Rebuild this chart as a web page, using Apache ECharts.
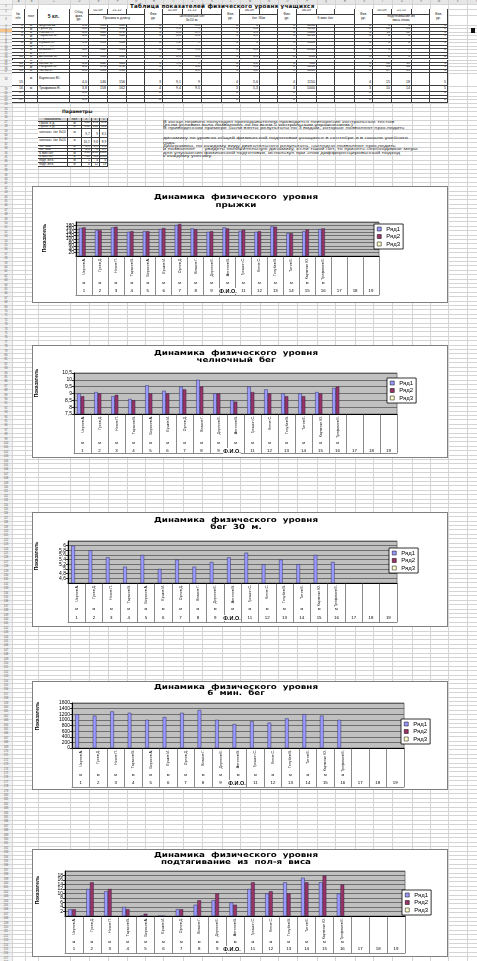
<!DOCTYPE html>
<html lang="ru">
<head>
<meta charset="utf-8">
<title>Динамика физического уровня</title>
<script src="https://cdn.jsdelivr.net/npm/echarts@6/dist/echarts.min.js"></script>
<style>
  html, body { margin:0; padding:0; background:#fff; }
  body { width:477px; height:961px; position:relative; overflow:hidden; font-family:"Liberation Sans", Arial, sans-serif; }
  #sheet { position:absolute; left:0; top:0; width:477px; height:961px; }
  .ln-h { position:absolute; left:0; width:477px; height:0; border-top:1px solid #d4d4d4; }
  .ln-v { position:absolute; top:0; height:961px; width:0; border-left:1px solid #d4d4d4; }
  .hd { position:absolute; font-size:2.6px; color:#555; display:flex; align-items:center; justify-content:center; }
  .cell { position:absolute; box-sizing:border-box; border-right:1px solid #3c3c3c; border-bottom:1px solid #3c3c3c;
          background:#fff; font-size:3.6px; line-height:1.05; color:#111; display:flex; align-items:flex-end;
          justify-content:flex-end; padding:0 1px 0 0; white-space:nowrap; overflow:hidden; }
  .cell.h { align-items:center; justify-content:center; text-align:center; white-space:normal; padding:0; }
  .cell.l { justify-content:flex-start; padding-left:1px; }
  .txt { position:absolute; white-space:nowrap; color:#111; line-height:1; }
  .chart { position:absolute; left:32px; width:416px; }
  .frame { position:absolute; left:32px; width:416px; box-sizing:border-box; border:1px solid #808080; pointer-events:none; }
</style>
</head>
<body>
<div id="sheet"></div>
<div id="c0" class="chart"></div>
<div id="c1" class="chart"></div>
<div id="c2" class="chart"></div>
<div id="c3" class="chart"></div>
<div id="c4" class="chart"></div>
<script>
// ---- class list and results ----
const numbers = ['1','2','3','4','5','6','7','8','9','10','11','12','13','14','15','16','17','18','19'];
const pupils = ['Чернов А.','Гусев Д.','Носов П.','Тарасов В.','Борисов А.','Ершов И.','Орлов Д.','Власов Г.',
                'Дорохов Е.','Антонов В.','Гришин С.','Котов С.','Голубев В.','Титов Е.','Карпенко Ю.','Трофимов Е.'];
const genders = ['м','м','м','м','м','м','м','м','м','м','м','м','м','м','м','м'];

const jumpSep    = [164,152,168,142,146,158,182,162,142,168,148,142,174,134,146,158];
const jumpDec    = [168,152,172,146,146,164,188,156,146,162,154,146,172,134,156,162];
const shuttleSep = [9.0,9.1,8.8,8.6,9.6,9.2,9.5,10.0,9.0,8.5,9.5,9.3,9.0,9.0,9.1,9.4];
const shuttleDec = [8.8,9.0,8.9,8.5,9.0,9.0,9.3,9.5,9.0,8.4,9.1,9.0,8.8,8.8,9.0,9.5];
const run30      = [6.0,5.8,5.5,5.1,5.6,5.0,5.4,5.1,5.3,5.5,5.7,5.2,5.4,5.2,5.6,5.3];
const run6min    = [1200,1150,1300,1250,1000,1100,1250,1350,1000,850,950,900,1050,1200,1150,1000];
const pullSep    = [3,12,11,4,0,0,3,5,7,6,12,10,15,17,15,10];
const pullDec    = [3,15,12,3,1,0,3,7,10,5,15,11,10,15,18,14];
const noData     = [];

// physical level marks per test
const levelJump    = [4,4,5,3,3,4,5,4,3,5,3,3,5,3,3,4];
const levelShuttle = [4,4,5,5,4,4,4,3,4,5,4,4,5,5,4,3];
const levelRun30   = [3,3,4,5,4,5,4,5,4,4,3,5,4,5,4,4];
const levelRun6    = [4,4,5,4,3,4,4,5,3,3,3,3,3,4,4,3];
const levelPull    = [3,5,5,3,1,1,3,4,5,4,5,5,5,5,5,5];

// norms table
const paramNames = ['Прыж. в д.','Прыж. в д.','челночн. бег 3х10','челночн. бег 3х10','бег 30м','бег 30м','6 мин бег','6 мин бег','подт. из в.','подт. из в.'];
const paramSex   = ['м','ж','м','ж','м','ж','м','ж','м','ж'];
const norm3 = [140,130,9.7,10.1,6.3,6.4,850,700,1,4];
const norm4 = [170,160,9,9.6,5.8,6.0,1050,900,4,12];
const norm5 = [195,185,8.5,8.9,5.6,5.7,1300,1100,6,19];

const seriesNames = ['Ряд1','Ряд2','Ряд3'];
const seriesColors = ['#9999FF','#993366','#FFFFCC'];

// ---- worksheet ----
const sheet = document.getElementById('sheet');
function el(cls, css, html) {
  const d = document.createElement('div');
  if (cls) d.className = cls;
  Object.assign(d.style, css);
  if (html !== undefined) d.innerHTML = html;
  sheet.appendChild(d);
  return d;
}
const px = v => v + 'px';
const comma = v => String(v).replace('.', ',');

el('', {position:'absolute', left:0, top:0, width:'477px', height:'3.5px', background:'#e6e6e6'});
el('', {position:'absolute', left:0, top:0, width:'12px', height:'961px', background:'#f2f2f2'});
el('', {position:'absolute', left:0, top:'29px', width:'12px', height:'3.4px', background:'#f5c58a'});

const colEdges = [12,25,38,70,89,108,127,145,163,183,202,222,240,260,278,297,317,335,355,373,392,412,430,448,467,486];
const letters = 'ABCDEFGHIJKLMNOPQRSTUVWXYZ';
colEdges.forEach((x, i) => {
  el('ln-v', {left:px(x)});
  if (i < colEdges.length - 1) el('hd', {left:px(x), top:0, width:px(colEdges[i+1]-x), height:'3.5px'}, letters[i]);
});

const rowEdges = [0, 3.5, 9, 14.5, 25];
for (let i = 0; i < 14; i++) rowEdges.push(+(25 + (i + 1) * 3.45).toFixed(2));
[86, 92, 95.5, 99, 102.5].forEach(v => rowEdges.push(v));
while (rowEdges[rowEdges.length - 1] < 961) rowEdges.push(+(rowEdges[rowEdges.length - 1] + 4.4).toFixed(2));
rowEdges.forEach((y, i) => {
  if (i > 0) el('ln-h', {top:px(y)});
  if (i > 0 && i < rowEdges.length - 1) el('hd', {left:0, top:px(y), width:'12px', height:px(rowEdges[i+1]-y)}, String(i));
});

// results table
const C = {A:12,B:25,C:38,D:70,E:89,F:108,G:127,H:145,I:163,J:183,K:202,L:222,M:240,N:260,O:278,P:297,Q:317,R:335,S:355,T:373,U:392,V:412,W:430,X:448};
const nextCol = {A:'B',B:'C',C:'D',D:'E',E:'F',F:'G',G:'H',H:'I',I:'J',J:'K',K:'L',L:'M',M:'N',N:'O',O:'P',P:'Q',Q:'R',R:'S',S:'T',T:'U',U:'V',V:'W',W:'X'};
function cell(c1, c2, y1, y2, text, cls, css) {
  return el('cell ' + (cls || ''), Object.assign({left:px(C[c1]), top:px(y1), width:px(C[nextCol[c2]] - C[c1]), height:px(y2 - y1)}, css || {}), text);
}
el('', {position:'absolute', left:px(C.A), top:'9px', width:px(C.X - C.A), height:'93.5px', borderLeft:'1px solid #3c3c3c', borderTop:'1px solid #3c3c3c', boxSizing:'border-box'});
el('txt', {left:'130px', top:'3.6px', fontFamily:'"DejaVu Sans"', fontWeight:'bold', fontSize:'5.6px', letterSpacing:'0.25px'}, 'Таблица показателей физического уровня учащихся');

const hTop = 9, hMid = 14.5, hBot = 25;
cell('A','A',hTop,hBot,'№<br>п/п','h');
cell('B','B',hTop,hBot,'пол','h');
cell('C','C',hTop,hBot,'<b style="font-size:5px">5 кл.</b>','h');
cell('D','D',hTop,hBot,'Общ.<br>физ.<br>ур.','h');
const blocks = [
  ['E','G','H',['02.09','21.12',''],'Прыжок в длину'],
  ['I','K','L',['02.09','21.12',''],'Челночный бег<br>3х10 м.'],
  ['M','N','O',['06.09',''],'бег 30м'],
  ['P','R','S',['06.09','',''],'6 мин бег'],
  ['T','V','W',['05.09','21.12',''],'подтягивание из<br>виса лежа']
];
blocks.forEach(([c1, c2, lv, dates, label]) => {
  let c = c1;
  dates.forEach(d => { cell(c, c, hTop, hMid, d, 'h'); c = nextCol[c]; });
  cell(c1, c2, hMid, hBot, label, 'h');
  cell(lv, lv, hTop, hBot, 'Физ.<br>ур.', 'h');
});

for (let r = 0; r < 19; r++) {
  const y1 = rowEdges[4 + r], y2 = rowEdges[5 + r];
  const has = r < pupils.length;
  const lv = has ? [levelJump[r], levelShuttle[r], levelRun30[r], levelRun6[r], levelPull[r]] : [0,0,0,0,0];
  const avg = has ? (lv.reduce((a, b) => a + b, 0) / lv.length).toFixed(1) : '0.0';
  const row = {
    A: String(r + 1), B: has ? genders[r] : '', C: has ? pupils[r] : '', D: comma(avg),
    E: has ? jumpSep[r] : '', F: has ? jumpDec[r] : '', G: '', H: String(lv[0]),
    I: has ? comma(shuttleSep[r]) : '', J: has ? comma(shuttleDec[r]) : '', K: '', L: String(lv[1]),
    M: has ? comma(run30[r]) : '', N: '', O: String(lv[2]),
    P: has ? run6min[r] : '', Q: '', R: '', S: String(lv[3]),
    T: has ? pullSep[r] : '', U: has ? pullDec[r] : '', V: '', W: String(lv[4])
  };
  Object.keys(row).forEach(k => {
    const cls = k === 'C' ? 'l' : (k === 'B' ? 'h' : '');
    cell(k, k, y1, y2, String(row[k]), cls, k === 'C' && r === 14 ? {alignItems:'center'} : null);
  });
}

// norms table
el('txt', {left:'62px', top:'110px', fontWeight:'bold', fontSize:'4.6px', fontFamily:'"DejaVu Sans"'}, 'Параметры');
const pCols = [38.3, 68.3, 81.7, 91.7, 100, 108.3];
const pRows = [118, 122, 125.5, 129, 137.5, 145.5, 149, 152, 155.5, 159, 163, 167];
el('', {position:'absolute', left:px(pCols[0]), top:px(pRows[0]), width:px(pCols[5]-pCols[0]), height:px(pRows[11]-pRows[0]), borderLeft:'1px solid #3c3c3c', borderTop:'1px solid #3c3c3c', boxSizing:'border-box'});
function pcell(ci, ri, text, cls, css) {
  return el('cell ' + (cls || ''), Object.assign({left:px(pCols[ci]), top:px(pRows[ri]), width:px(pCols[ci+1]-pCols[ci]), height:px(pRows[ri+1]-pRows[ri]), fontSize:'3.2px'}, css || {}), text);
}
['показатель','пол','3','4','5'].forEach((t, i) => pcell(i, 0, t, 'h', {background:'#cfcfcf'}));
paramNames.forEach((n, i) => {
  pcell(0, i + 1, n, 'l', {whiteSpace:'normal', alignItems:'center'});
  pcell(1, i + 1, paramSex[i], 'h');
  pcell(2, i + 1, comma(norm3[i]));
  pcell(3, i + 1, comma(norm4[i]));
  pcell(4, i + 1, comma(norm5[i]));
});

const noteLines = [
  [119.8, 'В конце первого полугодия преподавателем проводится повторение контрольных тестов'],
  [123.1, '(если условия зала позволяют, то по всем 5 контрольным упражнениям.)'],
  [126.4, 'В приведенном примере были взяты результаты по 3 видам, которые позволяют проследить'],
  [136.0, 'динамику по уровню общей физической подготовки учащихся в сентябре и в начале учебного'],
  [140.8, 'года.'],
  [144.0, 'Диаграммы, по каждому виду двигательного результата, наглядно позволяют проследить'],
  [147.3, 'и позволяют &nbsp;&nbsp;&nbsp;&nbsp; увидеть положительную динамику, если такой нет, то принять необходимые меры'],
  [150.6, 'для улучшения физической подготовки, используя при этом дифференцированный подход'],
  [153.9, 'к каждому ученику.']
];
noteLines.forEach(([y, t]) => el('txt', {left:'163px', top:px(y), fontSize:'4.3px', color:'#333', transform:'scaleX(1.3)', transformOrigin:'0 0'}, t));
el('', {position:'absolute', left:'471px', top:'28px', width:'4px', height:'5px', background:'#111'});

// ---- charts ----
const layouts = [
  {top:186, height:117, grid:{left:44, top:36, width:303, height:34}, titleY:[11,19], legend:{left:342, top:38}, axisTitle:[13,52], fioX:196, genderY:97, numY:105, bottomY:109},
  {top:345, height:113, grid:{left:42, top:28, width:323, height:41}, titleY:[8,15],  legend:{left:355, top:33}, axisTitle:[5,38],  fioX:200, genderY:98, numY:106, bottomY:108},
  {top:512, height:115, grid:{left:36, top:29, width:329, height:42}, titleY:[8,15],  legend:{left:357, top:36}, axisTitle:[5,44],  fioX:200, genderY:97, numY:106, bottomY:110},
  {top:681, height:109, grid:{left:40, top:22, width:332, height:45}, titleY:[6,12],  legend:{left:369, top:38}, axisTitle:[6,35],  fioX:205, genderY:94, numY:102, bottomY:106},
  {top:849, height:108, grid:{left:33, top:22, width:340, height:45}, titleY:[6,13],  legend:{left:370, top:41}, axisTitle:[6,41],  fioX:200, genderY:93, numY:100, bottomY:104}
];

const charts = [
  {subtitle:'прыжки',                         data:[jumpSep, jumpDec, noData],       min:0,   max:200,  interval:20},
  {subtitle:'челночный  бег',                 data:[shuttleSep, shuttleDec, noData], min:7.5, max:10.5, interval:0.5},
  {subtitle:'бег  30  м.',                    data:[run30, noData, noData],          min:4.4, max:6.2,  interval:0.2},
  {subtitle:'6  мин.  бег',                   data:[run6min, noData, noData],        min:0,   max:1600, interval:200},
  {subtitle:'подтягивание  из  пол-я  виса',  data:[pullSep, pullDec, noData],       min:0,   max:20,   interval:2}
];

const FONT = '"Liberation Sans", Arial, sans-serif';

function buildOption(c, L) {
  const plotBottom = L.grid.top + L.grid.height;
  const labelFmt = v => String(Math.round(v * 10) / 10).replace('.', ',');
  return {
    animation: false,
    backgroundColor: '#ffffff',
    textStyle: {fontFamily: FONT, color: '#000'},
    grid: Object.assign({show: true, backgroundColor: '#C0C0C0', borderColor: '#808080', borderWidth: 1}, L.grid),
    legend: {
      data: seriesNames.map((name, k) => ({name, icon: 'rect', itemStyle: {color: seriesColors[k], borderColor: '#000', borderWidth: 0.5}})),
      orient: 'vertical', left: L.legend.left, top: L.legend.top,
      itemWidth: 4, itemHeight: 4, itemGap: 1.5, padding: [2, 3, 2, 3],
      backgroundColor: '#fff', borderColor: '#000', borderWidth: 0.8,
      textStyle: {fontSize: 6, color: '#000', fontFamily: FONT}
    },
    xAxis: [
      {type: 'category', data: numbers,
       axisLine: {lineStyle: {color: '#000', width: 1}},
       axisTick: {show: true, interval: 0, length: L.bottomY - plotBottom, lineStyle: {color: '#3a3a3a', width: 0.6}},
       axisLabel: {interval: 0, rotate: 90, fontSize: 3.6, margin: 2, color: '#000', formatter: (v, i) => pupils[i] || ''}},
      {type: 'category', data: numbers, position: 'bottom', offset: L.genderY - plotBottom - 2,
       axisLine: {show: false}, axisTick: {show: false},
       axisLabel: {interval: 0, fontSize: 4, margin: 0, color: '#000', formatter: (v, i) => genders[i] || ''}},
      {type: 'category', data: numbers, position: 'bottom', offset: L.numY - plotBottom - 2.2,
       axisLine: {show: false}, axisTick: {show: false},
       axisLabel: {interval: 0, fontSize: 4.4, margin: 0, color: '#000'}},
      {type: 'category', data: numbers, position: 'bottom', offset: L.bottomY - plotBottom,
       axisLine: {show: true, lineStyle: {color: '#3a3a3a', width: 0.6}}, axisTick: {show: false}, axisLabel: {show: false}}
    ],
    yAxis: {
      type: 'value', min: c.min, max: c.max, interval: c.interval,
      axisLine: {show: true, lineStyle: {color: '#000', width: 1}},
      axisTick: {show: true, length: 2, lineStyle: {color: '#000', width: 0.8}},
      axisLabel: {fontSize: 5, margin: 2, color: '#000', formatter: labelFmt},
      splitLine: {show: true, lineStyle: {color: '#1e1e1e', width: 0.5}}
    },
    series: seriesNames.map((name, k) => ({
      name, type: 'bar', data: c.data[k], barGap: '0%', barCategoryGap: '38%',
      itemStyle: {color: seriesColors[k], borderColor: '#1a1a40', borderWidth: 0.4}
    })),
    graphic: [
      {type: 'text', x: 204, y: L.titleY[0], scaleX: 1.25,
       style: {text: 'Динамика  физического  уровня', font: 'bold 7px "DejaVu Sans"', fill: '#000', align: 'center', verticalAlign: 'middle'}},
      {type: 'text', x: 204, y: L.titleY[1], scaleX: 1.25,
       style: {text: c.subtitle, font: 'bold 7px "DejaVu Sans"', fill: '#000', align: 'center', verticalAlign: 'middle'}},
      {type: 'text', x: L.axisTitle[0], y: L.axisTitle[1], rotation: Math.PI / 2,
       style: {text: 'Показатель', font: 'bold 5px ' + FONT, fill: '#000', align: 'center', verticalAlign: 'middle'}},
      {type: 'text', x: L.fioX, y: L.numY, z: 100,
       style: {text: 'Ф.И.О.', font: 'bold 5.5px ' + FONT, fill: '#000', align: 'center', verticalAlign: 'middle', backgroundColor: '#fff'}}
    ]
  };
}

charts.forEach((c, i) => {
  const L = layouts[i];
  const dom = document.getElementById('c' + i);
  dom.style.top = px(L.top);
  dom.style.height = px(L.height);
  const frame = document.createElement('div');
  frame.className = 'frame';
  frame.style.top = px(L.top);
  frame.style.height = px(L.height);
  document.body.appendChild(frame);
  const chart = echarts.init(dom, null, {renderer: 'canvas'});
  chart.setOption(buildOption(c, L));
});
</script>
</body>
</html>
